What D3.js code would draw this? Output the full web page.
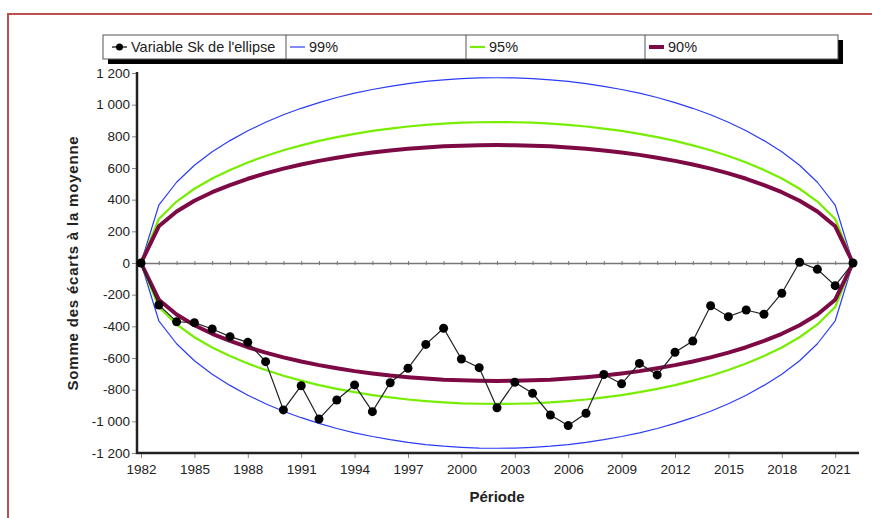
<!DOCTYPE html>
<html>
<head>
<meta charset="utf-8">
<script src="https://cdn.jsdelivr.net/npm/d3@7"></script>
<style>
  body { margin: 0; background: #fff; }
  svg { display: block; font-family: "Liberation Sans", Arial, sans-serif; }
</style>
</head>
<body>
<div id="chart"></div>
<script>
// data
const years = d3.range(1982, 2023);
const tickYears = [1982, 1985, 1988, 1991, 1994, 1997, 2000, 2003, 2006, 2009, 2012, 2015, 2018, 2021];
const yTicks = [-1200, -1000, -800, -600, -400, -200, 0, 200, 400, 600, 800, 1000, 1200];

const sk = [0, -265, -371, -377, -417, -465, -501, -623, -928, -775, -985, -865, -770, -939, -756, -665, -514, -412, -606, -661,
  -914, -753, -823, -960, -1027, -949, -704, -763, -634, -707, -564, -493, -270, -339, -297, -324, -191, 5, -40, -143, 0];

const upper99 = [0, 365, 510, 617, 702, 773, 835, 889, 936, 977, 1013, 1045, 1073, 1096, 1116, 1133, 1147, 1157, 1164, 1169,
  1170, 1169, 1164, 1157, 1147, 1133, 1116, 1096, 1073, 1045, 1013, 977, 936, 889, 835, 773, 702, 617, 510, 365, 0];
const lower99 = [0, -365, -510, -617, -702, -773, -835, -889, -936, -977, -1013, -1045, -1073, -1096, -1116, -1133, -1147, -1157, -1164, -1169,
  -1170, -1169, -1164, -1157, -1147, -1133, -1116, -1096, -1073, -1045, -1013, -977, -936, -889, -835, -773, -702, -617, -510, -365, 0];

const upper95 = [0, 278, 388, 469, 534, 588, 635, 676, 712, 743, 771, 795, 816, 834, 849, 862, 872, 880, 886, 889,
  890, 889, 886, 880, 872, 862, 849, 834, 816, 795, 771, 743, 712, 676, 635, 588, 534, 469, 388, 278, 0];
const lower95 = [0, -278, -388, -469, -534, -588, -635, -676, -712, -743, -771, -795, -816, -834, -849, -862, -872, -880, -886, -889,
  -890, -889, -886, -880, -872, -862, -849, -834, -816, -795, -771, -743, -712, -676, -635, -588, -534, -469, -388, -278, 0];

const upper90 = [0, 232, 325, 393, 447, 492, 532, 566, 596, 622, 645, 665, 683, 698, 711, 721, 730, 737, 741, 744,
  745, 744, 741, 737, 730, 721, 711, 698, 683, 665, 645, 622, 596, 566, 532, 492, 447, 393, 325, 232, 0];
const lower90 = [0, -232, -325, -393, -447, -492, -532, -566, -596, -622, -645, -665, -683, -698, -711, -721, -730, -737, -741, -744,
  -745, -744, -741, -737, -730, -721, -711, -698, -683, -665, -645, -622, -596, -566, -532, -492, -447, -393, -325, -232, 0];

const legendLabels = ["Variable Sk de l'ellipse", "99%", "95%", "90%"];

const width = 872, height = 518;
const plot = { left: 137, right: 859, top: 72, bottom: 453 };

const svg = d3.select("#chart").append("svg")
  .attr("width", width)
  .attr("height", height);

// red page frame
svg.append("path")
  .attr("d", `M8,${height} V14 H${width}`)
  .attr("fill", "none")
  .attr("stroke", "#c0504d")
  .attr("stroke-width", 2);

const x = d3.scaleLinear().domain([1982, 2022]).range([141, 853]);
const y = d3.scaleLinear().domain([-1200, 1200]).range([453, 73]);

const fr = d3.formatLocale({ decimal: ",", thousands: " ", grouping: [3], currency: ["", ""], minus: "-" });
const fmt = fr.format(",");

// y axis
const yAxis = svg.append("g")
  .attr("transform", `translate(${plot.left},0)`)
  .call(d3.axisLeft(y).tickValues(yTicks).tickFormat(fmt).tickSize(5).tickSizeOuter(0).tickPadding(2));
yAxis.select(".domain").remove();
yAxis.selectAll(".tick line").attr("stroke", "#888");
yAxis.selectAll(".tick text").attr("fill", "#222").style("font-size", "13.5px").style("font-family", "Liberation Sans, Arial, sans-serif");

// x axis
const xAxis = svg.append("g")
  .attr("transform", `translate(0,${plot.bottom})`)
  .call(d3.axisBottom(x).tickValues(tickYears).tickFormat(d3.format("d")).tickSize(5).tickSizeOuter(0).tickPadding(6));
xAxis.select(".domain").remove();
xAxis.selectAll(".tick line").attr("stroke", "#888");
xAxis.selectAll(".tick text").attr("fill", "#222").style("font-size", "13.5px").style("font-family", "Liberation Sans, Arial, sans-serif");

// zero line with yearly ticks
const zero = svg.append("g")
  .attr("transform", `translate(0,${y(0)})`)
  .call(d3.axisBottom(x).tickValues(years).tickFormat("").tickSize(2).tickSizeOuter(0));
zero.select(".domain").attr("stroke", "#777").attr("stroke-width", 1.5);
zero.selectAll(".tick line").attr("stroke", "#777").attr("y1", -2);

// axis lines
svg.append("path")
  .attr("d", `M${plot.left},${plot.top} V${plot.bottom} H${plot.right}`)
  .attr("fill", "none")
  .attr("stroke", "#222")
  .attr("stroke-width", 2.5);

const line = d3.line()
  .x((d, i) => x(years[i]))
  .y(d => y(d));

const bands = [
  { data: [upper99, lower99], color: "#2a3cf5", w: 1.2 },
  { data: [upper95, lower95], color: "#77ee00", w: 2.2 },
  { data: [upper90, lower90], color: "#7d0a45", w: 4 }
];

bands.forEach(b => {
  b.data.forEach(arr => {
    svg.append("path")
      .datum(arr)
      .attr("d", line)
      .attr("fill", "none")
      .attr("stroke", b.color)
      .attr("stroke-width", b.w)
      .attr("stroke-linejoin", "round");
  });
});

// Sk series
svg.append("path")
  .datum(sk)
  .attr("d", line)
  .attr("fill", "none")
  .attr("stroke", "#222")
  .attr("stroke-width", 1.2);

svg.append("g")
  .selectAll("circle")
  .data(sk)
  .enter()
  .append("circle")
  .attr("cx", (d, i) => x(years[i]))
  .attr("cy", d => y(d))
  .attr("r", 4.5)
  .attr("fill", "#000");

// axis titles
svg.append("text")
  .attr("transform", `translate(78,${y(0)}) rotate(-90)`)
  .attr("text-anchor", "middle")
  .style("font-size", "15px")
  .style("font-weight", "bold")
  .style("letter-spacing", "0.8px")
  .attr("fill", "#222")
  .text("Somme des écarts à la moyenne");

svg.append("text")
  .attr("x", 497)
  .attr("y", 502)
  .attr("text-anchor", "middle")
  .style("font-size", "15px")
  .style("font-weight", "bold")
  .attr("fill", "#222")
  .text("Période");

// legend
const legend = svg.append("g");
const lg = { x: 103, y: 35, w: 735, h: 24 };
const cells = [103, 286, 466, 645, 838];

legend.append("rect")
  .attr("x", lg.x + 5).attr("y", lg.y + 5)
  .attr("width", lg.w).attr("height", lg.h)
  .attr("fill", "#000");
legend.append("rect")
  .attr("x", lg.x).attr("y", lg.y)
  .attr("width", lg.w).attr("height", lg.h)
  .attr("fill", "#fff")
  .attr("stroke", "#555")
  .attr("stroke-width", 1);

cells.slice(1, 4).forEach(cx => {
  legend.append("line")
    .attr("x1", cx).attr("x2", cx)
    .attr("y1", lg.y).attr("y2", lg.y + lg.h)
    .attr("stroke", "#555");
});

const ly = lg.y + lg.h / 2;
const legendStyles = [
  { color: "#000", w: 1.2 },
  { color: "#2a3cf5", w: 1.2 },
  { color: "#77ee00", w: 2.2 },
  { color: "#7d0a45", w: 4 }
];

legendLabels.forEach((label, i) => {
  const x0 = cells[i];
  const lx0 = i === 0 ? x0 + 9 : x0 + 4;
  const lx1 = lx0 + 15;
  legend.append("line")
    .attr("x1", lx0).attr("x2", lx1)
    .attr("y1", ly).attr("y2", ly)
    .attr("stroke", legendStyles[i].color)
    .attr("stroke-width", legendStyles[i].w);
  if (i === 0) {
    legend.append("circle")
      .attr("cx", (lx0 + lx1) / 2).attr("cy", ly).attr("r", 3.5)
      .attr("fill", "#000");
  }
  legend.append("text")
    .attr("x", lx1 + 4)
    .attr("y", ly + 5)
    .style("font-size", "14.5px")
    .attr("fill", "#222")
    .text(label);
});
</script>
</body>
</html>
